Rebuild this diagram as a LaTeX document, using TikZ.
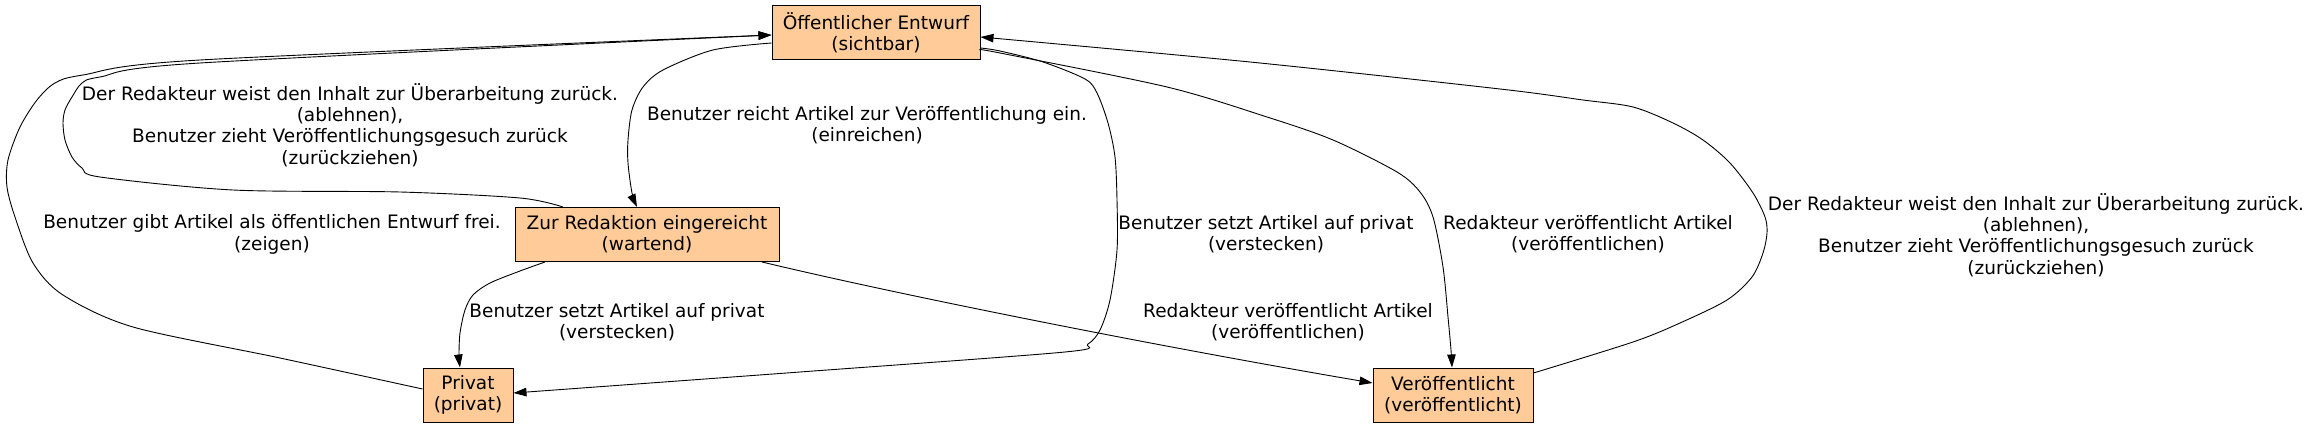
\documentclass[tikz,border=0pt]{standalone}
\usepackage{fontspec}
\setmainfont{DejaVu Sans}
\usetikzlibrary{arrows.meta,calc}
\definecolor{boxfill}{RGB}{255,204,153}
\tikzset{
  state/.style={draw=black, fill=boxfill, line width=1pt, inner sep=0pt, align=center,
    font=\fontsize{18.5}{21.3}\selectfont},
  lbl/.style={inner sep=0pt, align=center, font=\fontsize{18.5}{21.3}\selectfont},
  conn/.style={line width=0.9pt, -{Triangle[length=13pt,width=8.5pt]}},
}
\begin{document}
\begin{tikzpicture}[x=1pt,y=-1pt]
\useasboundingbox (0,0) rectangle (2312,427);

\node[state, minimum width=208pt, minimum height=54pt] (pub) at (876,32.5) {Öffentlicher Entwurf\\(sichtbar)};
\node[state, minimum width=264pt, minimum height=54pt] (rev) at (647,234.5) {Zur Redaktion eingereicht\\(wartend)};
\node[state, minimum width=90pt, minimum height=54pt] (priv) at (468,395) {Privat\\(privat)};
\node[state, minimum width=160pt, minimum height=54pt] (pubd) at (1453,395) {Veröffentlicht\\(veröffentlicht)};

\node[lbl] (l1) at (350,125) {Der Redakteur weist den Inhalt zur Überarbeitung zurück.\\(ablehnen),\\Benutzer zieht Veröffentlichungsgesuch zurück\\(zurückziehen)};
\node[lbl] (l2) at (272,234.5) {Benutzer gibt Artikel als öffentlichen Entwurf frei.\\(zeigen)};
\node[lbl] (l3) at (867,125.5) {Benutzer reicht Artikel zur Veröffentlichung ein.\\(einreichen)};
\node[lbl] (l4) at (617,322.5) {Benutzer setzt Artikel auf privat\\(verstecken)};
\node[lbl] (l5) at (1266,234.5) {Benutzer setzt Artikel auf privat\\(verstecken)};
\node[lbl] (l6) at (1588,234.5) {Redakteur veröffentlicht Artikel\\(veröffentlichen)};
\node[lbl] (l7) at (1288,322.5) {Redakteur veröffentlicht Artikel\\(veröffentlichen)};
\node[lbl] (l8) at (2036,235) {Der Redakteur weist den Inhalt zur Überarbeitung zurück.\\(ablehnen),\\Benutzer zieht Veröffentlichungsgesuch zurück\\(zurückziehen)};

% Privat -> Oeffentlicher Entwurf (zeigen)
\draw[conn] plot[smooth, tension=0.5] coordinates {($(priv.west)+(0,-6)$) (280,358) (133,327) (63,295) (33,263) (15,217) (7,187) (8,160) (20,127) (37,100) (55,83) (83,75) (200,60) ($(pub.west)+(0,2.5)$)};
% Zur Redaktion -> Oeffentlicher Entwurf
\draw[conn] plot[smooth, tension=0.5] coordinates {($(rev.north)+(-84,0)$) (520,198) (400,192) (233,190) (100,177) (82,168) (72,157) (65,140) (63,123) (65,110) (72,97) (82,83) (100,77) (200,63) ($(pub.west)+(0,2.5)$)};
% Oeffentlicher Entwurf -> Zur Redaktion
\draw[conn] plot[smooth, tension=0.5] coordinates {($(pub.west)+(0,10.5)$) (713,50) (663,70) (643,87) (632,110) (628,140) (628,163) (632,193) ($(rev.north)+(-10,0)$)};
% Zur Redaktion -> Privat
\draw[conn] plot[smooth, tension=0.5] coordinates {($(rev.south)+(-102,0)$) (520,271) (490,283) (473,295) (465,310) (460,333) (459,355) ($(priv.north)+(-8,0)$)};
% Zur Redaktion -> Veroeffentlicht
\draw[conn] ($(rev.south)+(115,0)$) .. controls (900,295) and (1150,345) .. ($(pubd.west)+(0,-12)$);
% Oeffentlicher Entwurf -> Privat
\draw[conn] plot[smooth, tension=0.5] coordinates {($(pub.east)+(0,15.5)$) (1000,51) (1043,62) (1085,79) (1097,93) (1108,123) (1115,157) (1117,200) (1117,250) (1110,300) (1100,330) (1088,344) (1065,352) (800,372) ($(priv.east)+(0,-2)$)};
% Oeffentlicher Entwurf -> Veroeffentlicht
\draw[conn] plot[smooth, tension=0.5] coordinates {($(pub.east)+(0,17.5)$) (1000,53) (1167,87) (1267,117) (1333,140) (1397,172) (1420,192) (1433,217) (1443,267) (1448,317) (1451,350) ($(pubd.north)+(-1,0)$)};
% Veroeffentlicht -> Oeffentlicher Entwurf
\draw[conn] plot[smooth, tension=0.5] coordinates {($(pubd.east)+(0,-22)$) (1633,342) (1680,323) (1727,300) (1752,277) (1763,253) (1767,233) (1765,217) (1753,193) (1730,163) (1703,140) (1673,123) (1633,107) (1583,100) (1500,89) (1250,62) ($(pub.east)+(0,4.5)$)};
\end{tikzpicture}
\end{document}
